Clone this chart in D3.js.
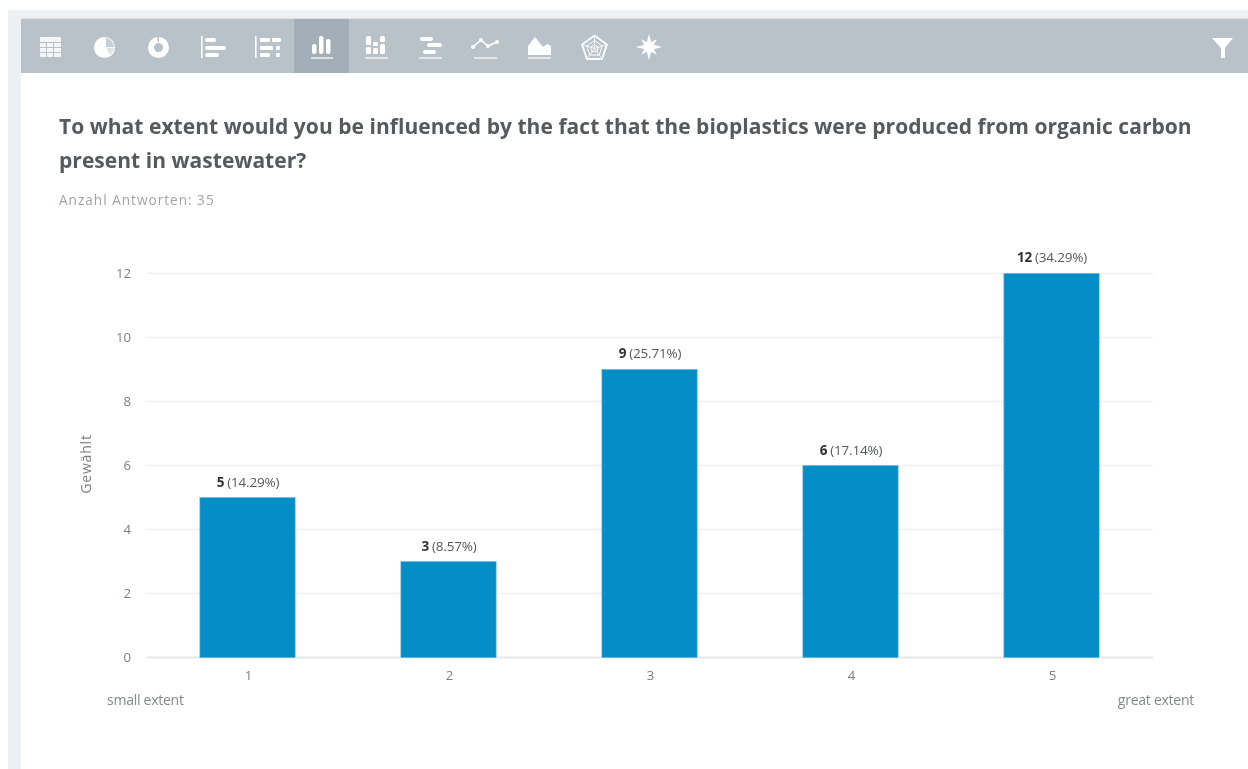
<!DOCTYPE html>
<html><head><meta charset="utf-8">
<script src="https://cdnjs.cloudflare.com/ajax/libs/d3/7.8.5/d3.min.js"></script>
<style>html,body{margin:0;padding:0;background:#fff;overflow:hidden}svg{display:block;filter:blur(.35px)}text{font-family:"Open Sans",sans-serif}</style>
</head><body><svg id="c" width="1248" height="769"></svg>
<script>
const categories=["1","2","3","4","5"];
const counts=[5,3,9,6,12];
const percents=["14.29%","8.57%","25.71%","17.14%","34.29%"];
const yTicks=[0,2,4,6,8,10,12];
const titleLines=["To what extent would you be influenced by the fact that the bioplastics were produced from organic carbon","present in wastewater?"];
const subtitle="Anzahl Antworten: 35";
const yLabel="Gewählt";
const leftAnchor="small extent", rightAnchor="great extent";

const svg=d3.select("#c");
// page frame
svg.append("rect").attr("x",8).attr("y",10).attr("width",1240).attr("height",759).attr("fill","#edf0f3");
svg.append("rect").attr("x",21).attr("y",18).attr("width",1227).attr("height",751).attr("fill","#fff");
svg.append("rect").attr("x",21).attr("y",18).attr("width",1227).attr("height",55).attr("fill","#b9c2c9");
svg.append("rect").attr("x",21).attr("y",18).attr("width",1227).attr("height",1).attr("fill","#dfe3e6");
svg.append("rect").attr("x",294).attr("y",19).attr("width",55).attr("height",54).attr("fill","#a2afb7");

// toolbar icons
const ic=svg.append("g").attr("fill","#fff");
const R=(x,y,w,h,rx=0,f="#fff",o=1)=>ic.append("rect").attr("x",x).attr("y",y).attr("width",w).attr("height",h).attr("rx",rx).attr("fill",f).attr("opacity",o);
// table
R(40,37,21,20,1,"#fff",.85);
[46,53].forEach(x=>R(x,42,1,15,0,"#b9c2c9"));
[42,47,52].forEach(y=>R(40,y,21,1,0,"#b9c2c9"));
// pie
ic.append("circle").attr("cx",104.5).attr("cy",47.5).attr("r",10.5);
ic.append("path").attr("d","M106 38 A9.5 9.5 0 0 1 114 47 L106 47Z").attr("fill","#c9d0d5");
ic.append("path").attr("d","M106 48 L114 48 A9.5 9.5 0 0 1 110 55Z").attr("fill","#dfe3e6");
// donut
ic.append("circle").attr("cx",158.5).attr("cy",47.5).attr("r",7.5).attr("fill","none").attr("stroke","#fff").attr("stroke-width",6);
R(157.5,36,1.5,6,0,"#b9c2c9");
// horizontal bars
R(201,36,1.6,22);
[[205,38,11],[205,46,21],[205,53,14]].forEach(d=>R(d[0],d[1],d[2],4,2));
// stacked horizontal
R(255,36,1.6,22);
[[260,38,10],[272,38,9],[260,46,13],[276,46,4],[260,53,10],[276,53,4]].forEach(d=>R(d[0],d[1],d[2],4,1));
// vertical bars (active)
[[312,44,5,10],[319,36,5,18],[326,39,5,15]].forEach(d=>R(d[0],d[1],d[2]-.5,d[3],2));
R(311,57,22,2,0,"#fff",.6);
// grouped stacked vertical
[[366,36,9],[366,47,7],[373,42,4],[373,48,6],[380,36,6],[380,44,10]].forEach(d=>R(d[0],d[1],5,d[2],1.5));
R(365,57,23,2,0,"#fff",.6);
// centered bars
[[420,37,13],[427,43,15],[423,50,13]].forEach(d=>R(d[0],d[1],d[2],4,2));
R(419,57,23,2,0,"#fff",.6);
// line
ic.append("path").attr("d","M473 47 L481 40 L488 46 L497 42").attr("fill","none").attr("stroke","#fff").attr("stroke-width",1.6);
[[473,47],[481,40],[488,46],[497,42]].forEach(p=>ic.append("circle").attr("cx",p[0]).attr("cy",p[1]).attr("r",2));
R(474,57,23,2,0,"#fff",.6);
// area
ic.append("path").attr("d","M528 55 L528 46 L535 37 L543 47 L547 44 L551 46 L551 55Z");
R(528,57,23,2,0,"#fff",.6);
// radar
const pent=(r)=>d3.range(5).map(i=>{const a=-Math.PI/2+i*2*Math.PI/5;return [594.5+r*Math.cos(a),48.5+r*Math.sin(a)].map(v=>v.toFixed(1)).join(",");}).join(" ");
[13,8,4].forEach((r,i)=>ic.append("polygon").attr("points",pent(r)).attr("fill","none").attr("stroke","#fff").attr("stroke-width",i?1:1.8));
d3.range(5).forEach(i=>{const a=-Math.PI/2+i*2*Math.PI/5;ic.append("line").attr("x1",594.5).attr("y1",48.5).attr("x2",594.5+13*Math.cos(a)).attr("y2",48.5+13*Math.sin(a)).attr("stroke","#fff").attr("stroke-width",.8);});
// star
[0,45,90,135].forEach((a,i)=>ic.append("path").attr("transform",`translate(649,47) rotate(${a})`).attr("d",i%2?"M0,-11 L3.5,0 L0,11 L-3.5,0Z":"M0,-13 L3.5,0 L0,13 L-3.5,0Z"));
ic.append("circle").attr("cx",649).attr("cy",47).attr("r",4.5);
// filter
ic.append("path").attr("d","M1212 38 H1233 L1225 48 V58 H1221 V48Z");

// title
svg.selectAll(".t").data(titleLines).join("text").attr("x",59).attr("y",(d,i)=>134+i*34)
 .attr("font-size",21).attr("letter-spacing",.04).attr("font-weight",700).attr("fill","#555a5e").text(d=>d);
svg.append("text").attr("x",59).attr("y",205).attr("font-size",13.6).attr("letter-spacing",1).attr("fill","#a1a4a6").text(subtitle);

// chart
const x=d3.scaleBand().domain(categories).range([147,1152]).paddingInner(.526).paddingOuter(.263);
const y=d3.scaleLinear().domain([0,12]).range([657.6,273.4]);
const grid=svg.append("g");
grid.selectAll("line").data(yTicks).join("line").attr("x1",147).attr("x2",1153).attr("y1",d=>y(d)).attr("y2",d=>y(d))
 .attr("stroke",d=>d===0?"#e6e8ea":"#eef0f1").attr("stroke-width",d=>d===0?2:1.4);
svg.selectAll(".bar").data(counts).join("rect").attr("x",(d,i)=>x(categories[i])).attr("width",x.bandwidth())
 .attr("y",d=>y(d)).attr("height",d=>y(0)-y(d)).attr("fill","#058dc7").attr("stroke","#6bb8dc").attr("stroke-width",.6);
svg.selectAll(".yt").data(yTicks).join("text").attr("x",131).attr("y",d=>y(d)+4.4).attr("text-anchor","end")
 .attr("font-size",13.2).attr("fill","#7a7f83").text(d=>d);
svg.selectAll(".xt").data(categories).join("text").attr("x",d=>x(d)+x.bandwidth()/2+1).attr("y",680).attr("text-anchor","middle")
 .attr("font-size",13.2).attr("fill","#7a7f83").text(d=>d);
const lab=svg.selectAll(".lab").data(counts).join("text").attr("x",(d,i)=>x(categories[i])+x.bandwidth()/2+.5).attr("y",d=>y(d)-11)
 .attr("text-anchor","middle").attr("font-size",13.5).attr("letter-spacing",-.2);
lab.append("tspan").attr("font-weight",700).attr("fill","#333").text(d=>d);
lab.append("tspan").attr("fill","#55595c").attr("dx",3).text((d,i)=>"("+percents[i]+")");
svg.append("text").attr("transform","translate(91,464) rotate(-90)").attr("text-anchor","middle").attr("font-size",14).attr("letter-spacing",.8).attr("fill","#7a7f83").text(yLabel);
svg.append("text").attr("x",107).attr("y",705).attr("font-size",14.1).attr("letter-spacing",-.3).attr("fill","#85898c").text(leftAnchor);
svg.append("text").attr("x",1194).attr("y",705).attr("text-anchor","end").attr("font-size",14.1).attr("letter-spacing",-.3).attr("fill","#85898c").text(rightAnchor);
</script></body></html>
